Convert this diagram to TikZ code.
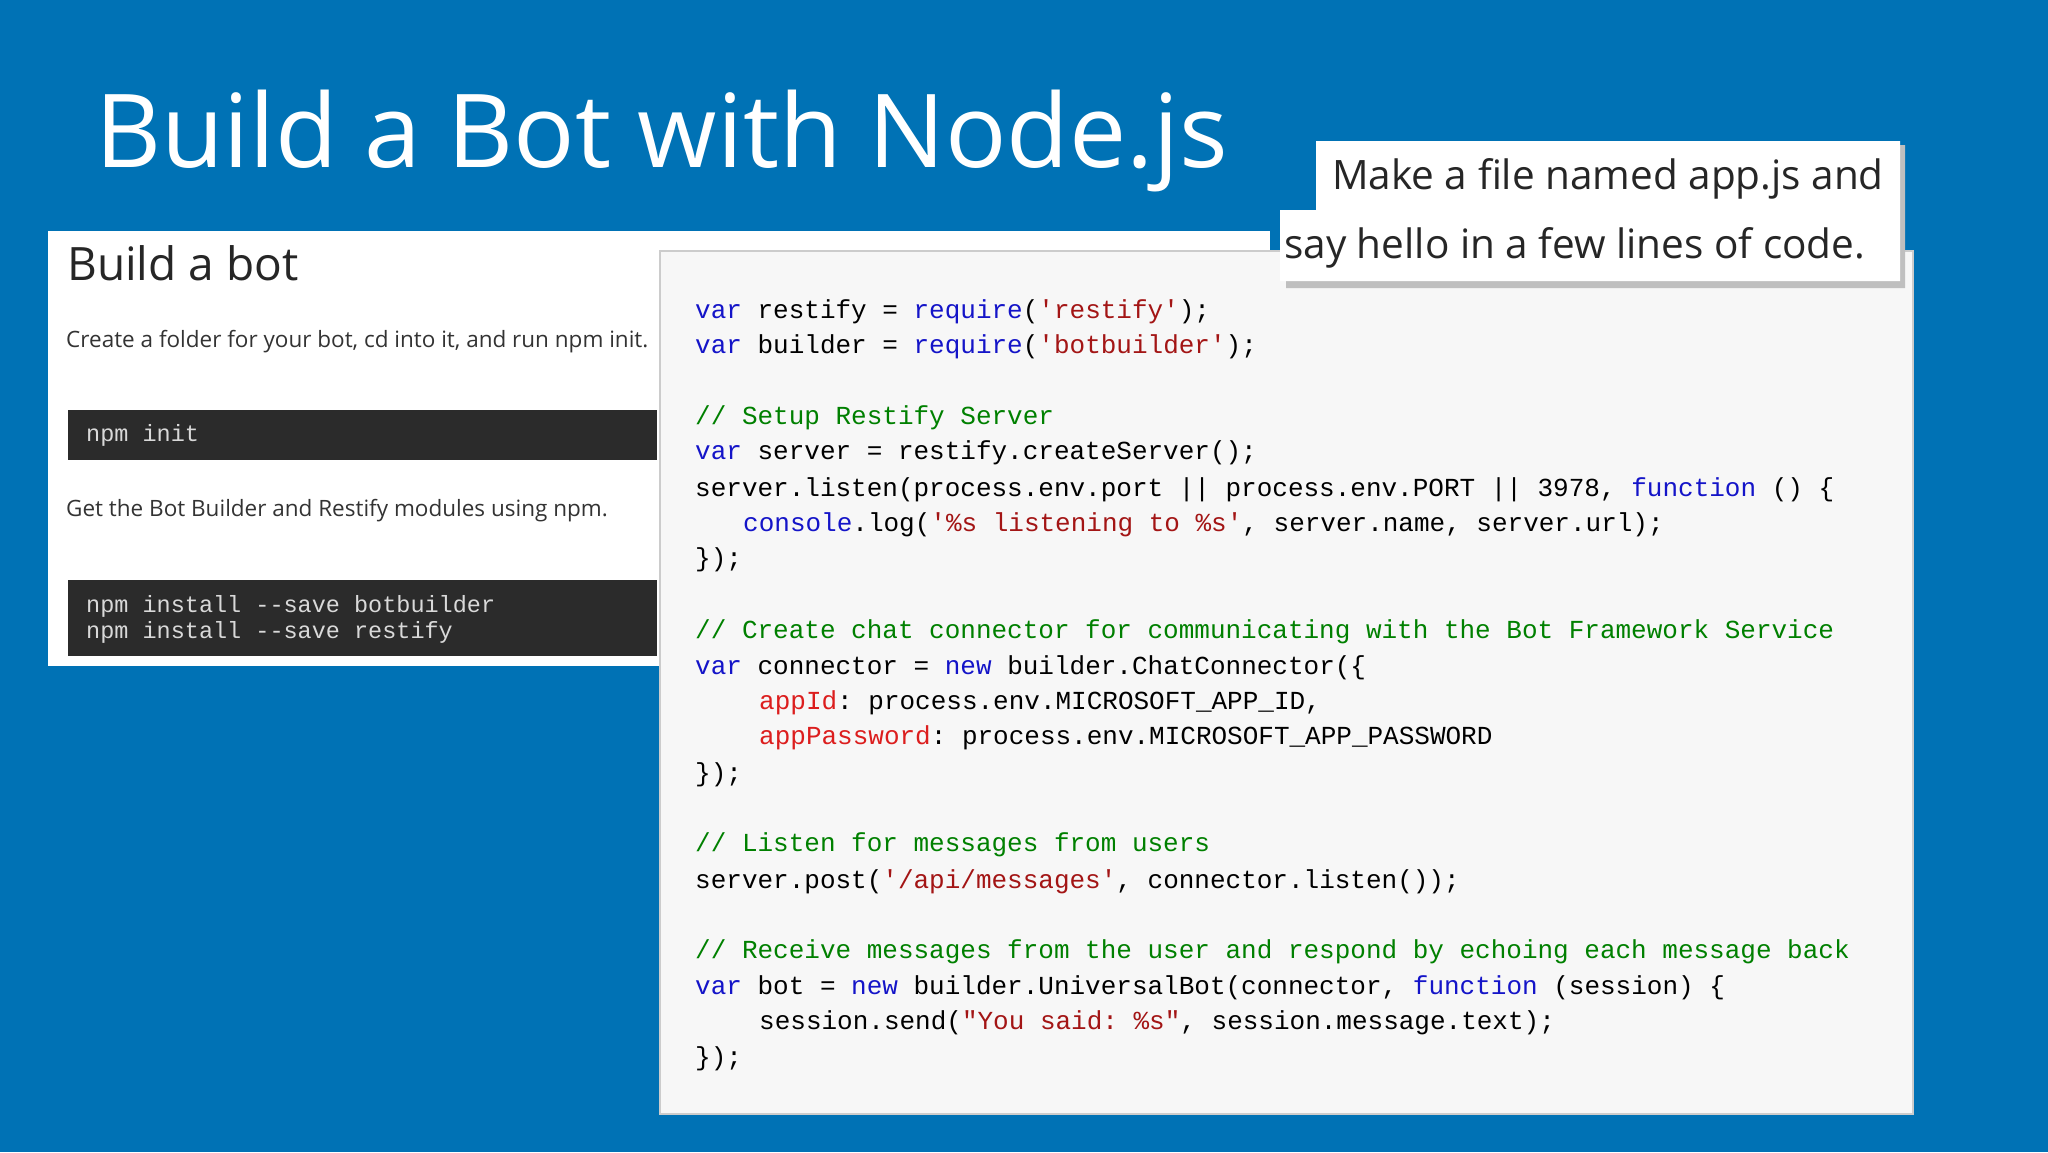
\documentclass[tikz,border=0pt]{standalone}
\usepackage{fontspec}
\setmainfont{Open Sans}
\setmonofont{Liberation Mono}
\definecolor{bg}{RGB}{0,114,181}
\definecolor{kwc}{RGB}{20,20,200}
\definecolor{stc}{RGB}{163,21,21}
\definecolor{cmc}{RGB}{0,128,0}
\definecolor{prc}{RGB}{220,30,30}
\definecolor{dark}{RGB}{43,43,43}
\newcommand{\kw}[1]{\textcolor{kwc}{#1}}
\newcommand{\st}[1]{\textcolor{stc}{#1}}
\newcommand{\cmt}[1]{\textcolor{cmc}{#1}}
\newcommand{\pr}[1]{\textcolor{prc}{#1}}
\tikzset{
 code/.style={anchor=base west,inner sep=0pt,font=\ttfamily\fontsize{26}{30}\selectfont},
 term/.style={anchor=base west,inner sep=0pt,text=white!85!black,font=\ttfamily\fontsize{23.5}{26}\selectfont,align=left},
 doc/.style={anchor=base west,inner sep=0pt,font=\fontsize{22.5}{24}\selectfont,text=black!80},
 callt/.style={anchor=base west,inner sep=0pt,font=\fontsize{40.5}{44}\selectfont,text=black!85},
}
\begin{document}
\begin{tikzpicture}[x=1pt,y=-1pt]
\fill[bg] (0,0) rectangle (2048,1152);
\node[anchor=base west,inner sep=0pt,text=white,font=\fontsize{102}{112}\selectfont] (title) at (95,167) {Build a Bot with Node.js};
% left panel
\fill[white] (48,231) rectangle (1270,666);
\node[anchor=base west,inner sep=0pt,font=\fontsize{46}{50}\selectfont,text=black!85] (bb) at (67,280) {Build a bot};
\node[doc] (d1) at (66,347) {Create a folder for your bot, cd into it, and run npm init.};
\fill[dark] (68,410) rectangle (657,460);
\node[term] (t1) at (86,441) {npm init};
\node[doc] (d2) at (66,516) {Get the Bot Builder and Restify modules using npm.};
\fill[dark] (68,580) rectangle (657,656);
\node[term] (t2) at (86,612) {npm install --save botbuilder};
\node[term] (t3) at (86,638) {npm install --save restify};
% code panel
\filldraw[fill=black!3,draw=black!20,line width=2pt] (660,251) rectangle (1913,1114);
\begin{scope}[yshift=4pt]
\node[code] (c1) at (695,322) {\kw{var} restify = \kw{require}(\st{'restify'});};
\node[code] (c2) at (695,357) {\kw{var} builder = \kw{require}(\st{'botbuilder'});};
\node[code] (c3) at (695,428) {\cmt{// Setup Restify Server}};
\node[code] (c4) at (695,463) {\kw{var} server = restify.createServer();};
\node[code] (c5) at (695,500) {server.listen(process.env.port || process.env.PORT || 3978, \kw{function} () \{};
\node[code] (c6) at (743,535) {\kw{console}.log(\st{'\%s listening to \%s'}, server.name, server.url);};
\node[code] (c7) at (695,570) {\});};
\node[code] (c8) at (695,642) {\cmt{// Create chat connector for communicating with the Bot Framework Service}};
\node[code] (c9) at (695,678) {\kw{var} connector = \kw{new} builder.ChatConnector(\{};
\node[code] (c10) at (759,713) {\pr{appId}: process.env.MICROSOFT\_APP\_ID,};
\node[code] (c11) at (759,748) {\pr{appPassword}: process.env.MICROSOFT\_APP\_PASSWORD};
\node[code] (c12) at (695,785) {\});};
\node[code] (c13) at (695,855) {\cmt{// Listen for messages from users}};
\node[code] (c14) at (695,892) {server.post(\st{'/api/messages'}, connector.listen());};
\node[code] (c15) at (695,962) {\cmt{// Receive messages from the user and respond by echoing each message back}};
\node[code] (c16) at (695,998) {\kw{var} bot = \kw{new} builder.UniversalBot(connector, \kw{function} (session) \{};
\node[code] (c17) at (759,1033) {session.send(\st{"You said: \%s"}, session.message.text);};
\node[code] (c18) at (695,1069) {\});};
\end{scope}
% callout
\fill[black!25] (1320,145) -- (1905,145) -- (1905,288) -- (1286,288) -- (1286,215) -- (1320,215) -- cycle;
\fill[white] (1316,141) -- (1900,141) -- (1900,281) -- (1280,281) -- (1280,210) -- (1316,210) -- cycle;
\node[callt] (k1) at (1332,189) {Make a file named app.js and};
\node[callt] (k2) at (1284,258) {say hello in a few lines of code.};
\end{tikzpicture}
\end{document}
